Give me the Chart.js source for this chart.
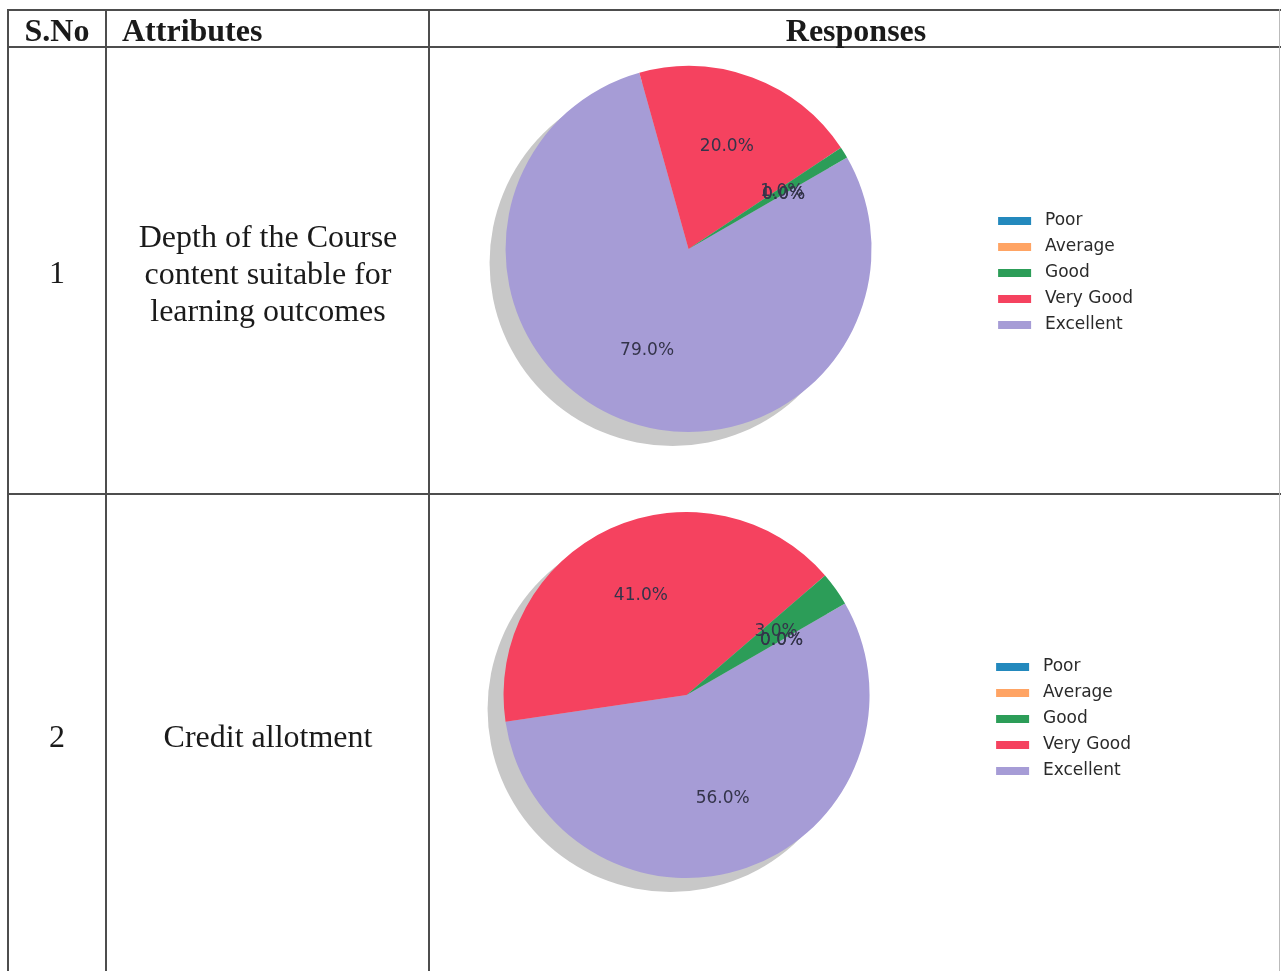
<!DOCTYPE html>
<html><head><meta charset="utf-8">
<script src="https://cdn.jsdelivr.net/npm/chart.js@4.4.1/dist/chart.umd.min.js"></script>
<style>
html,body{margin:0;padding:0;background:#fff;width:1281px;height:971px;overflow:hidden;}
#page{position:relative;width:1281px;height:971px;}
.hl{position:absolute;height:2px;background:#4d4d4d;}
.vl{position:absolute;width:2px;background:#4d4d4d;}
.cell{position:absolute;display:flex;align-items:center;justify-content:center;text-align:center;font-family:'Liberation Serif','Times New Roman',serif;color:#1a1a1a;font-size:32px;line-height:37px;box-sizing:border-box;}
.hd{font-weight:bold;padding-top:4px;}
.chart{position:absolute;width:755px;height:420px;}
</style></head>
<body><div id="page">
<div class="chart" style="left:388px;top:39px"><canvas id="c1"></canvas></div>
<div class="chart" style="left:386px;top:485px"><canvas id="c2"></canvas></div>

<div class="hl" style="left:7px;top:9px;width:1274px"></div>
<div class="hl" style="left:7px;top:46px;width:1274px"></div>
<div class="hl" style="left:7px;top:493px;width:1274px"></div>
<div class="vl" style="left:7px;top:9px;height:962px"></div>
<div class="vl" style="left:105px;top:9px;height:962px"></div>
<div class="vl" style="left:428px;top:9px;height:962px"></div>
<div class="vl" style="left:1279px;top:9px;height:962px;width:1px;background:#bbb"></div>

<div class="cell hd" style="left:8px;top:10px;width:98px;height:37px;">S.No</div>
<div class="cell hd" style="left:122px;top:10px;width:300px;height:37px;justify-content:flex-start;">Attributes</div>
<div class="cell hd" style="left:430px;top:10px;width:852px;height:37px;">Responses</div>
<div class="cell" style="left:8px;top:48px;width:98px;height:446px;padding-top:3px;">1</div>
<div class="cell" style="left:107px;top:48px;width:322px;height:446px;padding-top:4px;">Depth of the Course<br>content suitable for<br>learning outcomes</div>
<div class="cell" style="left:8px;top:494px;width:98px;height:484px;">2</div>
<div class="cell" style="left:107px;top:494px;width:322px;height:484px;">Credit allotment</div>
</div>
<script>
const categories = ['Poor', 'Average', 'Good', 'Very Good', 'Excellent'];
const depthValues = [0, 0, 1, 20, 79];
const creditValues = [0, 0, 3, 41, 56];
const sliceColors = ['#2389bd', '#ffa464', '#2c9d58', '#f5425f', '#a69cd6'];

const shadowPlugin = {
  id: 'pieShadow',
  beforeDatasetsDraw(chart) {
    const arc = chart.getDatasetMeta(0).data[0];
    if (!arc) return;
    const ctx = chart.ctx;
    ctx.save();
    ctx.fillStyle = '#c8c8c8';
    ctx.beginPath();
    ctx.arc(arc.x - 16, arc.y + 14, arc.outerRadius, 0, Math.PI * 2);
    ctx.fill();
    ctx.restore();
  }
};

const pctPlugin = {
  id: 'pctLabels',
  afterDatasetsDraw(chart) {
    const meta = chart.getDatasetMeta(0);
    const data = chart.data.datasets[0].data;
    const total = data.reduce((a, b) => a + b, 0);
    const ctx = chart.ctx;
    ctx.save();
    ctx.font = '17px "DejaVu Sans"';
    ctx.fillStyle = '#34344a';
    ctx.textAlign = 'center';
    ctx.textBaseline = 'middle';
    for (let i = meta.data.length - 1; i >= 0; i--) {
      const arc = meta.data[i];
      const mid = (arc.startAngle + arc.endAngle) / 2;
      const r = arc.outerRadius * 0.6;
      const x = arc.x + Math.cos(mid) * r;
      const y = arc.y + Math.sin(mid) * r;
      ctx.fillText((data[i] / total * 100).toFixed(1) + '%', x, y);
    }
    ctx.restore();
  }
};

function makePie(id, values) {
  const labels = categories.slice().reverse();
  const vals = values.slice().reverse();
  const cols = sliceColors.slice().reverse();
  return new Chart(document.getElementById(id), {
    type: 'pie',
    data: { labels: labels, datasets: [{ data: vals, backgroundColor: cols, borderWidth: 0 }] },
    options: {
      responsive: true,
      maintainAspectRatio: false,
      devicePixelRatio: 1,
      animation: false,
      rotation: 60,
      radius: 183,
      layout: { padding: 0 },
      plugins: {
        tooltip: { enabled: false },
        legend: {
          position: 'right',
          reverse: true,
          title: { display: true, text: '', padding: 0, font: { size: 48, lineHeight: 1 } },
          labels: {
            font: { family: 'DejaVu Sans', size: 17 },
            color: '#2a2a2a',
            boxWidth: 33,
            boxHeight: 8,
            padding: 9,
            generateLabels(chart) {
              const items = Chart.controllers.pie.overrides.plugins.legend.labels.generateLabels(chart);
              items.forEach(it => { it.text = ' ' + it.text; });
              return items;
            }
          }
        }
      }
    },
    plugins: [shadowPlugin, pctPlugin]
  });
}
makePie('c1', depthValues);
makePie('c2', creditValues);
</script>
</body></html>
